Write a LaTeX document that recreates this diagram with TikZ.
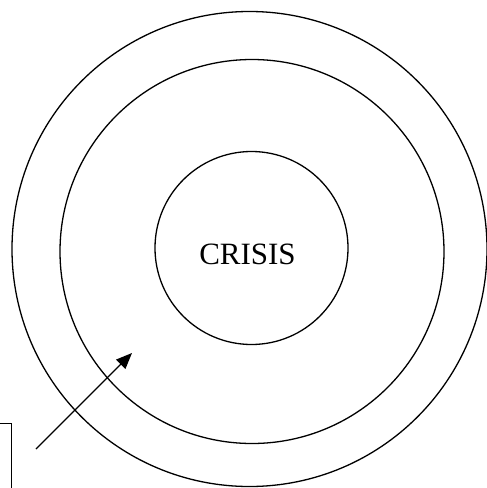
\documentclass[tikz,border=0pt]{standalone}
\usepackage{fontspec}
\setmainfont{Liberation Serif}
\usetikzlibrary{arrows.meta}
\begin{document}
\begin{tikzpicture}[x=1pt,y=-1pt,
  ring/.style={circle,draw,line width=1.3pt,inner sep=0pt},
  labelbox/.style={draw,line width=1.3pt,inner sep=0pt},
  pointer/.style={line width=1.3pt,-{Triangle[length=16pt,width=13pt]}}]
\useasboundingbox (0,0) rectangle (487,488);
\clip (0,0) rectangle (487,488);
\node[ring,minimum size=475pt] (outer) at (249.5,249) {};
\node[ring,minimum size=384pt] (middle) at (252,251.5) {};
\node[ring,minimum size=193pt] (inner) at (251.5,248) {};
\node[font=\fontsize{31}{36}\selectfont] (crisis) at (247.5,254.5) {CRISIS};
\node[labelbox,minimum width=80pt,minimum height=90pt,anchor=north east] (box) at (12,423) {};
\coordinate (start) at (36,449);
\coordinate (tip) at (132,353);
\draw[pointer] (start) -- (tip);
\end{tikzpicture}
\end{document}
